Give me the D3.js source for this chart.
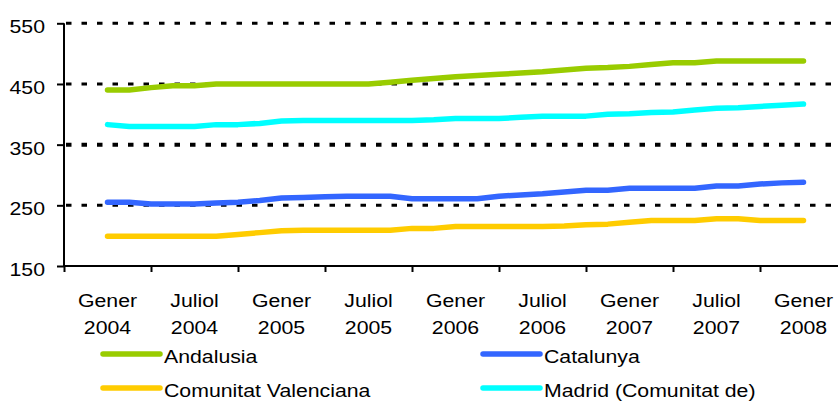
<!DOCTYPE html>
<html>
<head>
<meta charset="utf-8">
<script src="https://cdn.jsdelivr.net/npm/d3@7"></script>
<style>
  html, body { margin: 0; padding: 0; background: #fff; }
  svg { display: block; }
  text { font-family: "Liberation Sans", Arial, sans-serif; fill: #000; }
</style>
</head>
<body>
<svg id="chart" width="838" height="401"></svg>
<script>
// ---- data ----
const xLabels = [["Gener","2004"],["Juliol","2004"],["Gener","2005"],["Juliol","2005"],["Gener","2006"],["Juliol","2006"],["Gener","2007"],["Juliol","2007"],["Gener","2008"]];
const yTicks = [150, 250, 350, 450, 550];
const seriesNames = ["Andalusia", "Catalunya", "Comunitat Valenciana", "Madrid (Comunitat de)"];
const seriesColors = ["#99CC00", "#3366FF", "#FFCC00", "#00FFFF"];
const andalusia = [440,440,444,447,447,450,450,450,450,450,450,450,450,453,456,459,462,464,466,468,470,473,476,477,479,482,485,485,488,488,488,488,488];
const catalunya = [255,255,252,252,252,254,255,258,262,263,264,265,265,265,261,261,261,261,265,267,269,272,275,275,278,278,278,278,282,282,285,287,288];
const valenciana = [199,199,199,199,199,199,202,205,208,209,209,209,209,209,212,212,215,215,215,215,215,216,218,219,222,225,225,225,228,228,225,225,225];
const madrid = [383,380,380,380,380,383,383,385,389,390,390,390,390,390,390,391,393,393,393,395,397,397,397,400,401,403,404,407,410,411,413,415,417];
const seriesValues = [andalusia, catalunya, valenciana, madrid];

// ---- layout ----
const svg = d3.select("#chart");
const pLeft = 64, pRight = 847, pTop = 23.3, pBottom = 266;
const stepPerLabel = 4;
const x = d3.scaleLinear().domain([-2, 34]).range([pLeft, pRight]);
const y = d3.scaleLinear().domain([150, 550]).range([pBottom, pTop]);
const sx = 1.15, fs = 18.5;

// gridlines
svg.append("g").selectAll("line").data(yTicks.filter(d => d > 150)).join("line")
  .attr("x1", pLeft + 2).attr("x2", 838)
  .attr("y1", d => y(d)).attr("y2", d => y(d))
  .attr("stroke", "#000")
  .attr("stroke-width", d => d === 350 ? 4 : 3)
  .attr("stroke-dasharray", "5.5,10");

// y axis
const yAxis = d3.axisLeft(y).tickValues(yTicks).tickSize(7).tickFormat("");
const gy = svg.append("g").attr("transform", `translate(${pLeft},0)`).call(yAxis);
gy.select(".domain").attr("stroke", "#000").attr("stroke-width", 2).attr("d", `M0,${pTop}V${pBottom}`);
gy.selectAll(".tick line").attr("stroke", "#000").attr("stroke-width", 2);
svg.append("g").selectAll("text").data(yTicks).join("text")
  .attr("transform", d => `translate(45,${y(d) + 10}) scale(${sx},1)`)
  .attr("text-anchor", "end").attr("font-size", fs).text(d => d);

// x axis
const tickVals = d3.range(-2, 31, stepPerLabel);
const xAxis = d3.axisBottom(x).tickValues(tickVals).tickSize(6).tickFormat("");
const gx = svg.append("g").attr("transform", `translate(0,${pBottom})`).call(xAxis);
gx.select(".domain").attr("stroke", "#000").attr("stroke-width", 2).attr("d", `M${pLeft},0H838`);
gx.selectAll(".tick line").attr("stroke", "#000").attr("stroke-width", 2);
const xl = svg.append("g").selectAll("g").data(xLabels).join("g");
xl.each(function(d, i) {
  const g = d3.select(this);
  const cx = x(i * stepPerLabel);
  g.append("text").attr("transform", `translate(${cx},306.5) scale(${sx},1)`)
    .attr("text-anchor", "middle").attr("font-size", fs).text(d[0]);
  g.append("text").attr("transform", `translate(${cx},333.5) scale(${sx},1)`)
    .attr("text-anchor", "middle").attr("font-size", fs).text(d[1]);
});

// lines
const line = d3.line().x((d, i) => x(i)).y(d => y(d));
const drawOrder = [3, 0, 1, 2];
svg.append("g").selectAll("path").data(drawOrder).join("path")
  .attr("d", k => line(seriesValues[k]))
  .attr("fill", "none")
  .attr("stroke", k => seriesColors[k])
  .attr("stroke-width", 5.5)
  .attr("stroke-linecap", "round")
  .attr("stroke-linejoin", "round");

// legend
const legPos = [[103, 354], [483, 354], [103, 388], [483, 388]];
const lg = svg.append("g").selectAll("g").data(seriesNames).join("g");
lg.append("line")
  .attr("x1", (d, i) => legPos[i][0]).attr("x2", (d, i) => legPos[i][0] + 57)
  .attr("y1", (d, i) => legPos[i][1]).attr("y2", (d, i) => legPos[i][1])
  .attr("stroke", (d, i) => seriesColors[i]).attr("stroke-width", 5.5).attr("stroke-linecap", "round");
lg.append("text")
  .attr("transform", (d, i) => `translate(${legPos[i][0] + 61},${legPos[i][1] + 8.5}) scale(${sx},1)`)
  .attr("font-size", fs).text(d => d);
</script>
</body>
</html>
